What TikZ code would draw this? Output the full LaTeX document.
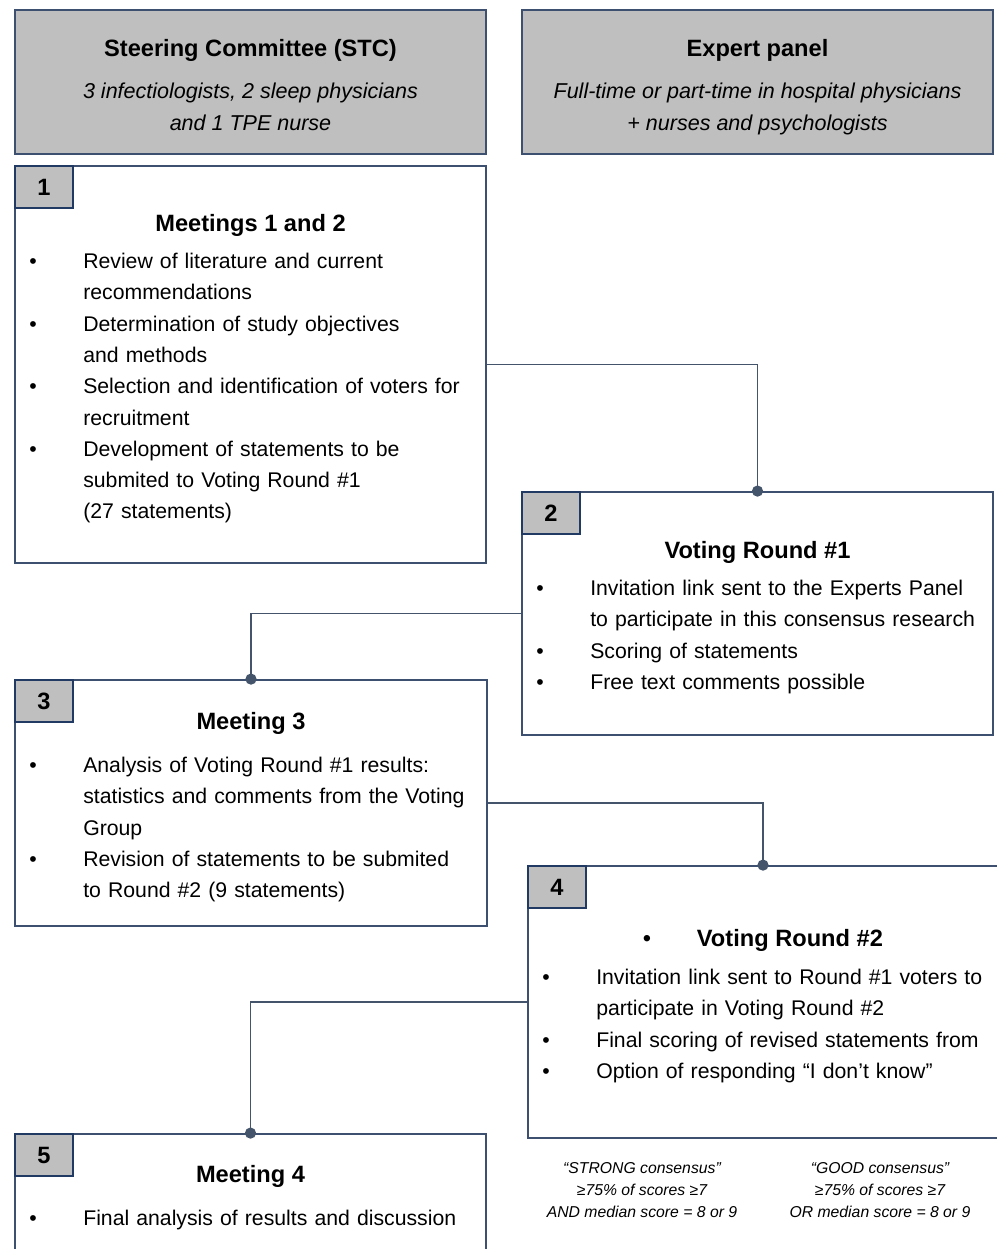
\documentclass[tikz,border=0pt]{standalone}
\usepackage{fontspec}
\setmainfont{Liberation Sans}
\newlength{\pxl}
\setlength{\pxl}{0.025cm}
\definecolor{boxline}{HTML}{3E5070}
\definecolor{tabline}{HTML}{213A63}
\definecolor{linkline}{HTML}{44546A}
\definecolor{panelgray}{HTML}{BFBFBF}
\newcommand{\headfont}{\fontsize{16.8pt}{20pt}\selectfont\bfseries}
\newcommand{\listfont}{\fontsize{15.1pt}{22.25pt}\selectfont}
\newcommand{\subfont}{\fontsize{15.3pt}{22.7pt}\selectfont\itshape}
\newcommand{\notefont}{\fontsize{11.2pt}{15.6pt}\selectfont\itshape}
\newcommand{\bitem}[1]{\par\hangindent=54\pxl\hangafter=1\noindent\makebox[54\pxl][l]{•}#1\par}

\begin{document}
\begin{tikzpicture}[
    x=0.025cm, y=-0.025cm,
    panel/.style={rectangle, draw=boxline, line width=1.3pt, fill=panelgray, minimum width=471\pxl, minimum height=144\pxl},
    phase/.style={rectangle, draw=boxline, line width=1.3pt, fill=white, minimum width=471\pxl},
    num/.style={rectangle, draw=tabline, line width=1.3pt, fill=panelgray, minimum width=58\pxl, minimum height=42\pxl, font=\headfont, anchor=north west},
    heading/.style={font=\headfont, anchor=base},
    sub/.style={font=\subfont, align=center, inner sep=0pt, anchor=north},
    items/.style={font=\listfont, text width=480\pxl, align=left, inner sep=0pt, anchor=north west},
    note/.style={font=\notefont, align=center, inner sep=0pt, anchor=north},
    link/.style={draw=linkline, line width=0.8pt},
    dot/.style={circle, fill=linkline, inner sep=0pt, minimum size=8pt}
]
\clip (0,0) rectangle (997,1249);

% Groups
\node[panel] (stc) at (250.5,82) {};
\node[heading] (stc title) at (250.5,56.5) {Steering Committee (STC)};
\node[sub] (stc sub) at (250.5,83) {3 infectiologists, 2 sleep physicians\\and 1 TPE nurse};

\node[panel] (panel) at (757.5,82) {};
\node[heading] (panel title) at (757.5,56.5) {Expert panel};
\node[sub] (panel sub) at (757.5,83) {Full-time or part-time in hospital physicians\\+ nurses and psychologists};

% Steps
\node[phase, minimum height=397\pxl] (m12) at (250.5,364.5) {};
\node[num] (n1) at (m12.north west) {1};
\node[heading] (m12 title) at (250.5,231.5) {Meetings 1 and 2};
\node[items] (m12 list) at (29,237) {%
  \bitem{Review of literature and current\newline recommendations}
  \bitem{Determination of study objectives\newline and methods}
  \bitem{Selection and identification of voters for\newline recruitment}
  \bitem{Development of statements to be\newline submited to Voting Round \#1\newline (27 statements)}};

\node[phase, minimum height=243\pxl] (vr1) at (757.5,613.5) {};
\node[num] (n2) at (vr1.north west) {2};
\node[heading] (vr1 title) at (757.5,558.5) {Voting Round \#1};
\node[items] (vr1 list) at (536,564) {%
  \bitem{Invitation link sent to the Experts Panel\newline to participate in this consensus research}
  \bitem{Scoring of statements}
  \bitem{Free text comments possible}};

\node[phase, minimum width=472\pxl, minimum height=246\pxl] (m3) at (251,803) {};
\node[num] (n3) at (m3.north west) {3};
\node[heading] (m3 title) at (251,729.5) {Meeting 3};
\node[items] (m3 list) at (29,741) {%
  \bitem{Analysis of Voting Round \#1 results:\newline statistics and comments from the Voting\newline Group}
  \bitem{Revision of statements to be submited\newline to Round \#2 (9 statements)}};

\node[phase, minimum width=470\pxl, minimum height=272\pxl] (vr2) at (763,1002) {};
\node[num] (n4) at (vr2.north west) {4};
\node[heading, anchor=base west] (vr2 title) at (638,946.5) {\makebox[54\pxl][l]{\normalfont •}Voting Round \#2};
\node[items] (vr2 list) at (542,953) {%
  \bitem{Invitation link sent to Round \#1 voters to\newline participate in Voting Round \#2}
  \bitem{Final scoring of revised statements from}
  \bitem{Option of responding “I don’t know”}};

\node[phase, minimum height=136\pxl] (m4) at (250.5,1202) {};
\node[num] (n5) at (m4.north west) {5};
\node[heading] (m4 title) at (250.5,1182.5) {Meeting 4};
\node[items] (m4 list) at (29,1194) {%
  \bitem{Final analysis of results and discussion}};

% Consensus levels
\node[note] (strong) at (642,1162.5) {“STRONG consensus”\\≥75\% of scores ≥7\\AND median score = 8 or 9};
\node[note] (good) at (880,1162.5) {“GOOD consensus”\\≥75\% of scores ≥7\\OR median score = 8 or 9};

% Connectors
\draw[link] (m12.east) -| (vr1.north) node[dot] {};
\draw[link] (vr1.west) -| (m3.north) node[dot] {};
\draw[link] (m3.east) -| (vr2.north) node[dot] {};
\draw[link] (vr2.west) -| (m4.north) node[dot] {};

\end{tikzpicture}
\end{document}
